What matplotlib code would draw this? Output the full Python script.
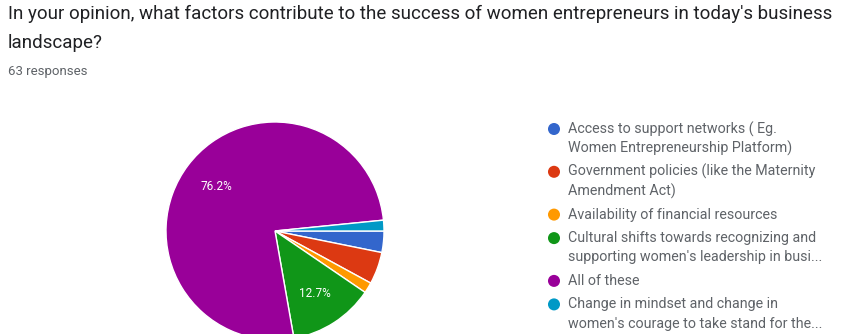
import matplotlib
matplotlib.use("Agg")
import matplotlib.pyplot as plt

# survey data (63 responses)
labels = [
    "Access to support networks ( Eg.\nWomen Entrepreneurship Platform)",
    "Government policies (like the Maternity\nAmendment Act)",
    "Availability of financial resources",
    "Cultural shifts towards recognizing and\nsupporting women's leadership in busi...",
    "All of these",
    "Change in mindset and change in\nwomen's courage to take stand for the...",
]
counts = [2, 3, 1, 8, 48, 1]
colors = ["#3366cc", "#dc3912", "#ff9900", "#109618", "#990099", "#0099c6"]

title_lines = [
    "In your opinion, what factors contribute to the success of women entrepreneurs in today's business",
    "landscape?",
]
subtitle = "63 responses"

plt.rcParams["font.family"] = ["Roboto", "DejaVu Sans"]

W, H = 847, 334
fig = plt.figure(figsize=(W / 100, H / 100), dpi=100)
fig.patch.set_facecolor("white")

# title + response count
for i, t in enumerate(title_lines):
    fig.text(8 / W, 1 - (14 + i * 29) / H, t, fontsize=13.5, color="#202124",
             va="center", ha="left")
fig.text(8 / W, 1 - 71 / H, subtitle, fontsize=9.5, color="#5f6368",
         va="center", ha="left")

# pie
cx, cy, r = 275, 231, 109
ax = fig.add_axes([(cx - r) / W, (H - cy - r) / H, 2 * r / W, 2 * r / H])


def pct(p):
    return "%.1f%%" % p if p > 5 else ""


wedges, texts, autotexts = ax.pie(
    counts, colors=colors, startangle=0, counterclock=False,
    autopct=pct, pctdistance=0.68,
    wedgeprops=dict(edgecolor="white", linewidth=1),
    textprops=dict(color="white", fontsize=8.5),
)
ax.set_xlim(-1, 1)
ax.set_ylim(-1, 1)
ax.set_aspect("equal")

# legend drawn in pixel coords
lax = fig.add_axes([0, 0, 1, 1])
lax.set_xlim(0, W)
lax.set_ylim(H, 0)
lax.axis("off")
lax.patch.set_alpha(0)

y = 129
line_h = 19.3
gap = 23.5
for lab, col in zip(labels, colors):
    lax.scatter([554], [y], s=75, color=col, edgecolors="none")
    lines = lab.split("\n")
    for i, ln in enumerate(lines):
        lax.text(568, y + i * line_h, ln, fontsize=10.3, color="#5f6368",
                 va="center", ha="left")
    y += (len(lines) - 1) * line_h + gap

fig.savefig("out.png", dpi=100)
